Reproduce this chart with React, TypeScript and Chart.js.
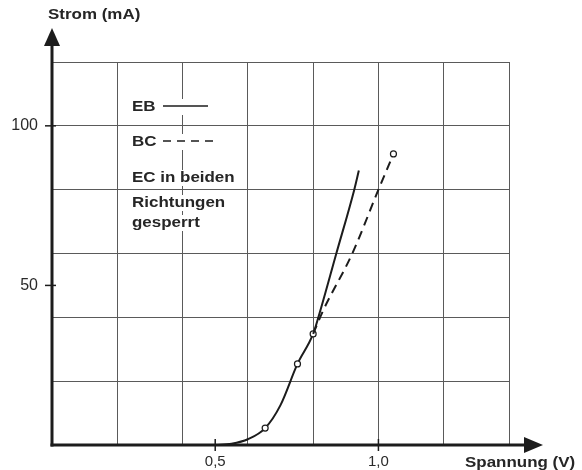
import React, { useEffect, useRef } from 'react';
import { Chart, registerables } from 'chart.js';

Chart.register(...registerables);

// EB curve (solid)
const ebVolts = [0.5, 0.55, 0.6, 0.653, 0.7, 0.752, 0.8, 0.816, 0.871, 0.926, 0.94];
const ebCurrent = [0, 0.4, 1.8, 5.3, 12.5, 25.4, 34.8, 40, 60, 80, 86];
const ebMarkers = [false, false, false, true, false, true, true, false, false, false, false];
// BC curve (dashed)
const bcVolts = [0.8, 0.83, 0.92, 1.0, 1.046];
const bcCurrent = [34.8, 42, 60, 80, 91.2];
const bcMarkers = [false, false, false, false, true];

const xLabelValues = [0.5, 1.0];
const xLabelTexts = ['0,5', '1,0'];
const yLabelValues = [50, 100];
const yLabelTexts = ['50', '100'];

const xTitle = 'Spannung (V)';
const yTitle = 'Strom (mA)';
const legendEB = 'EB';
const legendBC = 'BC';
const legendNote = ['EC in beiden', 'Richtungen', 'gesperrt'];

const INK = '#1c1c1c';
const GRID = '#5a5a5a';
const TEXT_FONT = 'bold 15px "Liberation Sans", Arial, sans-serif';
const STRETCH = 1.13;

function stretchedText(ctx: CanvasRenderingContext2D, text: string, x: number, y: number) {
  ctx.save();
  ctx.translate(x, y);
  ctx.scale(STRETCH, 1);
  ctx.fillText(text, 0, 0);
  ctx.restore();
}

function textWidth(ctx: CanvasRenderingContext2D, text: string) {
  return ctx.measureText(text).width * STRETCH;
}

const legendItems = [
  { text: legendEB, x: 132, y: 107, lineTo: 208, dash: false },
  { text: legendBC, x: 132, y: 142, lineTo: 213, dash: true },
  { text: legendNote[0], x: 132, y: 178, lineTo: 0, dash: false },
  { text: legendNote[1], x: 132, y: 203, lineTo: 0, dash: false },
  { text: legendNote[2], x: 132, y: 223, lineTo: 0, dash: false },
];

const decorPlugin = {
  id: 'decor',
  beforeDatasetsDraw(chart: any) {
    const ctx: CanvasRenderingContext2D = chart.ctx;
    ctx.save();
    ctx.font = TEXT_FONT;
    ctx.fillStyle = '#ffffff';
    legendItems.forEach((it) => {
      const right = it.lineTo ? it.lineTo + 4 : it.x + textWidth(ctx, it.text) + 3;
      ctx.fillRect(it.x - 3, it.y - 8, right - it.x + 3, 16);
    });
    ctx.restore();
  },
  afterDatasetsDraw(chart: any) {
    const ctx: CanvasRenderingContext2D = chart.ctx;
    const a = chart.chartArea;
    const xs = chart.scales.x;
    const ys = chart.scales.y;
    ctx.save();
    ctx.strokeStyle = INK;
    ctx.fillStyle = INK;
    // axes
    ctx.lineWidth = 3;
    ctx.beginPath();
    ctx.moveTo(a.left, a.bottom + 1.5);
    ctx.lineTo(a.left, a.top - 20);
    ctx.stroke();
    ctx.beginPath();
    ctx.moveTo(a.left - 1.5, a.bottom);
    ctx.lineTo(a.right + 18, a.bottom);
    ctx.stroke();
    // arrows
    ctx.beginPath();
    ctx.moveTo(a.left, a.top - 34);
    ctx.lineTo(a.left - 8, a.top - 16);
    ctx.lineTo(a.left + 8, a.top - 16);
    ctx.closePath();
    ctx.fill();
    ctx.beginPath();
    ctx.moveTo(a.right + 34, a.bottom);
    ctx.lineTo(a.right + 15, a.bottom - 8);
    ctx.lineTo(a.right + 15, a.bottom + 8);
    ctx.closePath();
    ctx.fill();
    // tick marks
    ctx.lineWidth = 1.5;
    xLabelValues.forEach((v) => {
      const px = xs.getPixelForValue(v);
      ctx.beginPath();
      ctx.moveTo(px, a.bottom - 6);
      ctx.lineTo(px, a.bottom + 6);
      ctx.stroke();
    });
    yLabelValues.forEach((v) => {
      const py = ys.getPixelForValue(v);
      ctx.beginPath();
      ctx.moveTo(a.left - 7, py);
      ctx.lineTo(a.left + 4, py);
      ctx.stroke();
    });
    // legend
    ctx.font = TEXT_FONT;
    ctx.textBaseline = 'middle';
    ctx.textAlign = 'left';
    ctx.fillStyle = '#262626';
    legendItems.forEach((it) => {
      stretchedText(ctx, it.text, it.x, it.y);
      if (it.lineTo) {
        ctx.lineWidth = 1.6;
        ctx.setLineDash(it.dash ? [8, 6] : []);
        ctx.beginPath();
        ctx.moveTo(163, it.y - 1);
        ctx.lineTo(it.lineTo, it.y - 1);
        ctx.stroke();
        ctx.setLineDash([]);
      }
    });
    // titles
    stretchedText(ctx, yTitle, 48, 15);
    stretchedText(ctx, xTitle, 465, 463);
    ctx.restore();
  },
};

export default function App() {
  const ref = useRef<HTMLCanvasElement | null>(null);
  useEffect(() => {
    if (!ref.current) return;
    const isLabeled = (v: number, list: number[]) => list.findIndex((l) => Math.abs(l - v) < 1e-6);
    const chart = new Chart(ref.current, {
      type: 'line',
      data: {
        datasets: [
          {
            label: legendBC,
            data: bcVolts.map((v, i) => ({ x: v, y: bcCurrent[i] })),
            borderColor: INK,
            borderWidth: 2,
            borderDash: [9, 6],
            pointRadius: bcMarkers.map((m) => (m ? 3 : 0)),
            pointBackgroundColor: '#ffffff',
            pointBorderColor: INK,
            pointBorderWidth: 1.2,
            cubicInterpolationMode: 'monotone',
            fill: false,
          },
          {
            label: legendEB,
            data: ebVolts.map((v, i) => ({ x: v, y: ebCurrent[i] })),
            borderColor: INK,
            borderWidth: 2,
            pointRadius: ebMarkers.map((m) => (m ? 3 : 0)),
            pointBackgroundColor: '#ffffff',
            pointBorderColor: INK,
            pointBorderWidth: 1.2,
            cubicInterpolationMode: 'monotone',
            fill: false,
          },
        ],
      },
      options: {
        animation: false,
        responsive: false,
        layout: { padding: { top: 62, right: 73, left: 0, bottom: 0 } },
        plugins: { legend: { display: false }, tooltip: { enabled: false } },
        scales: {
          x: {
            type: 'linear',
            min: 0,
            max: 1.4,
            afterFit: (s: any) => {
              s.height = 25;
            },
            border: { display: false },
            grid: {
              drawTicks: false,
              lineWidth: 1,
              color: (c: any) =>
                c.tick && Math.round(c.tick.value * 10) % 2 === 0 ? GRID : 'rgba(0,0,0,0)',
            },
            ticks: {
              stepSize: 0.1,
              autoSkip: false,
              maxRotation: 0,
              padding: 8,
              color: '#2a2a2a',
              font: { family: '"Liberation Sans", Arial, sans-serif', size: 15 },
              callback: (v: any) => {
                const i = isLabeled(Number(v), xLabelValues);
                return i >= 0 ? xLabelTexts[i] : '';
              },
            },
          },
          y: {
            type: 'linear',
            min: 0,
            max: 120,
            afterFit: (s: any) => {
              s.width = 52;
            },
            border: { display: false },
            grid: {
              drawTicks: false,
              lineWidth: 1,
              color: (c: any) =>
                c.tick && Math.round(c.tick.value) % 20 === 0 ? GRID : 'rgba(0,0,0,0)',
            },
            ticks: {
              stepSize: 10,
              autoSkip: false,
              padding: 14,
              color: '#2a2a2a',
              font: { family: '"Liberation Sans", Arial, sans-serif', size: 16 },
              callback: (v: any) => {
                const i = isLabeled(Number(v), yLabelValues);
                return i >= 0 ? yLabelTexts[i] : '';
              },
            },
          },
        },
      } as any,
      plugins: [decorPlugin],
    });
    return () => chart.destroy();
  }, []);
  return (
    <div style={{ position: 'fixed', left: 0, top: 0, width: 582, height: 470, background: '#fff' }}>
      <canvas ref={ref} width={582} height={470} style={{ display: 'block' }} />
    </div>
  );
}
